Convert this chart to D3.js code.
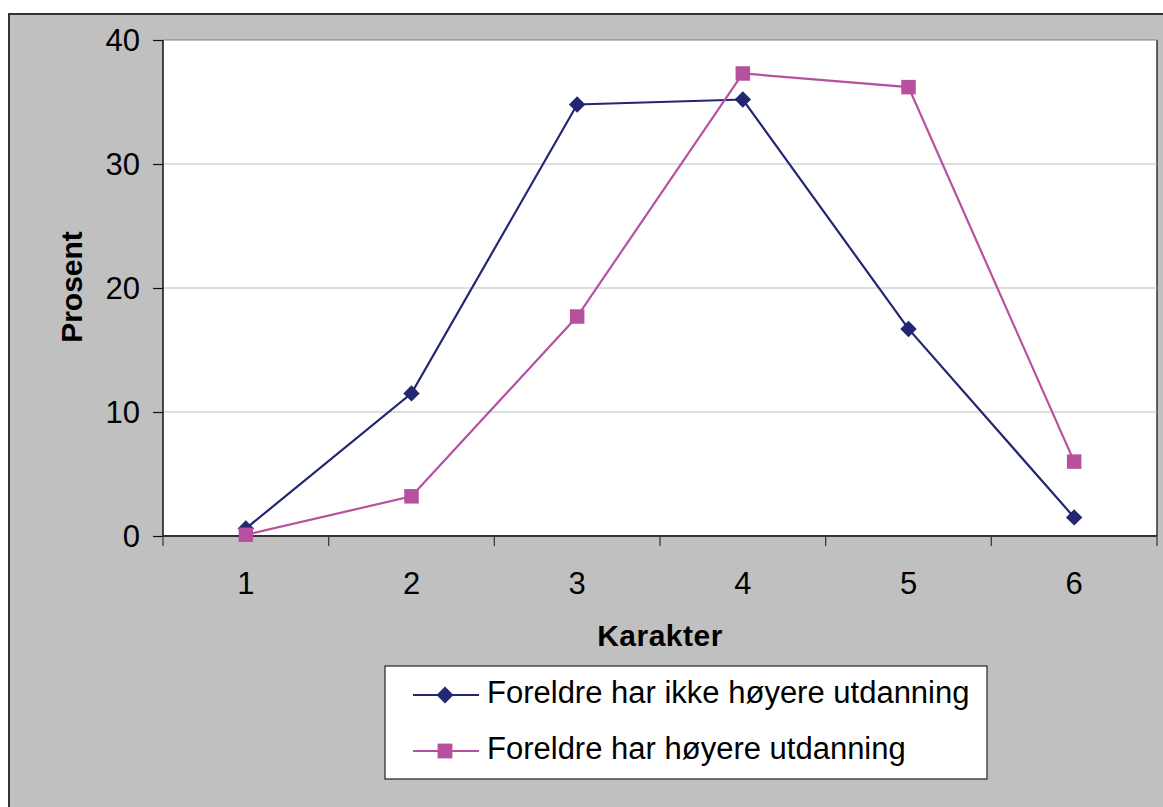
<!DOCTYPE html>
<html><head><meta charset="utf-8">
<script src="https://cdn.jsdelivr.net/npm/d3@7"></script>
<style>body{margin:0;background:#fff;}svg{display:block;font-family:"Liberation Sans",Arial,sans-serif;}</style>
</head><body>
<svg id="c" width="1163" height="807"></svg>
<script>
const categories = ["1","2","3","4","5","6"];
const seriesNames = ["Foreldre har ikke høyere utdanning","Foreldre har høyere utdanning"];
const ikkeHoyere = [0.6, 11.5, 34.8, 35.2, 16.7, 1.5];
const hoyere = [0.1, 3.2, 17.7, 37.3, 36.2, 6.0];
const yTicks = [0, 10, 20, 30, 40];
const colors = ["#232671", "#B6509F"];

const svg = d3.select("#c");
svg.append("rect").attr("x",9).attr("y",14).attr("width",1170).attr("height",800)
  .attr("fill","#C0C0C0").attr("stroke","#333").attr("stroke-width",2);

const L=163, R=1157, T=40, B=536;
const x = d3.scaleBand().domain(categories).range([L,R]);
const y = d3.scaleLinear().domain([0,40]).range([B,T]);

svg.append("rect").attr("x",L).attr("y",T).attr("width",R-L).attr("height",B-T).attr("fill","#fff");
svg.append("line").attr("x1",R).attr("x2",R).attr("y1",T).attr("y2",B).attr("stroke","#333").attr("stroke-width",1.5);

svg.append("g").selectAll("line").data(yTicks.filter(d=>d>0)).join("line")
  .attr("x1",L).attr("x2",R).attr("y1",d=>y(d)).attr("y2",d=>y(d))
  .attr("stroke", d=>d===40?"#808080":"#bdbdbd").attr("stroke-width",1);

const ya = svg.append("g").attr("transform",`translate(${L},0)`)
  .call(d3.axisLeft(y).tickValues(yTicks).tickSize(10).tickPadding(13).tickFormat(d3.format("d")));
ya.attr("font-size",null).attr("font-family",null);
ya.select(".domain").attr("stroke","#111").attr("stroke-width",1.5).attr("d",`M0,${B}V${T}`);
ya.selectAll(".tick line").attr("stroke","#111").attr("stroke-width",1.2);
ya.selectAll("text").style("font-size","31px").attr("fill","#000").attr("dy","0.35em");

const xb = svg.append("g").attr("transform",`translate(0,${B})`);
xb.append("line").attr("x1",L).attr("x2",R).attr("y1",0).attr("y2",0).attr("stroke","#333").attr("stroke-width",2);
const bounds = categories.map(c=>x(c)).concat([R]);
xb.selectAll(".tk").data(bounds).join("line").attr("class","tk")
  .attr("x1",d=>d).attr("x2",d=>d).attr("y1",0).attr("y2",10).attr("stroke","#333").attr("stroke-width",1.2);
xb.selectAll(".lb").data(categories).join("text").attr("class","lb")
  .attr("x",d=>x(d)+x.bandwidth()/2).attr("y",58).attr("text-anchor","middle")
  .style("font-size","31px").attr("fill","#000").text(d=>d);

svg.append("text").attr("x",660).attr("y",646).attr("text-anchor","middle")
  .style("font-size","30px").attr("font-weight","bold").attr("letter-spacing","0.5").text("Karakter");
svg.append("text").attr("transform","translate(82,287) rotate(-90)").attr("text-anchor","middle")
  .style("font-size","30px").attr("font-weight","bold").text("Prosent");

const cx = d => x(d)+x.bandwidth()/2;
const allSeries = [ikkeHoyere, hoyere];
const line = d3.line().x((d,i)=>cx(categories[i])).y(d=>y(d));
allSeries.forEach((vals,si)=>{
  svg.append("path").datum(vals).attr("d",line).attr("fill","none").attr("stroke",colors[si]).attr("stroke-width",2.2);
});
allSeries.forEach((vals,si)=>{
  const g = svg.append("g");
  vals.forEach((v,i)=>{
    if(si===0){
      g.append("path").attr("d",d3.symbol().type(d3.symbolSquare).size(135)())
       .attr("transform",`translate(${cx(categories[i])},${y(v)}) rotate(45)`).attr("fill",colors[0]);
    } else {
      g.append("path").attr("d",d3.symbol().type(d3.symbolSquare).size(210)())
       .attr("transform",`translate(${cx(categories[i])},${y(v)})`).attr("fill",colors[1]);
    }
  });
});

const lg = svg.append("g");
lg.append("rect").attr("x",385).attr("y",666).attr("width",602).attr("height",113)
  .attr("fill","#fff").attr("stroke","#222").attr("stroke-width",1.2);
seriesNames.forEach((name,i)=>{
  const ly = 695 + i*56;
  lg.append("line").attr("x1",413).attr("x2",479).attr("y1",ly).attr("y2",ly).attr("stroke",colors[i]).attr("stroke-width",2.2);
  if(i===0){
    lg.append("path").attr("d",d3.symbol().type(d3.symbolSquare).size(145)())
      .attr("transform",`translate(445,${ly}) rotate(45)`).attr("fill",colors[0]);
  } else {
    lg.append("path").attr("d",d3.symbol().type(d3.symbolSquare).size(220)())
      .attr("transform",`translate(445,${ly})`).attr("fill",colors[1]);
  }
  lg.append("text").attr("x",487).attr("y",ly).attr("dy","0.25em").style("font-size","31px").attr("fill","#000").text(name);
});
</script>
</body></html>
